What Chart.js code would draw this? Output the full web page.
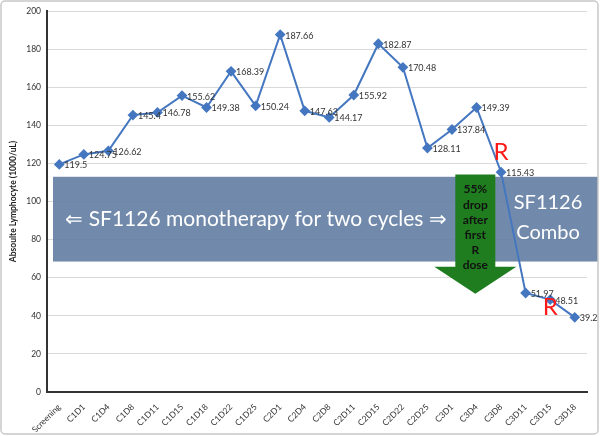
<!DOCTYPE html>
<html>
<head>
<meta charset="utf-8">
<script src="https://cdn.jsdelivr.net/npm/chart.js@4.4.1/dist/chart.umd.min.js"></script>
<style>
  html, body { margin: 0; padding: 0; background: #ffffff; }
  #wrap { width: 600px; height: 436px; position: relative; }
</style>
</head>
<body>
<div id="wrap"><canvas id="grafico"></canvas></div>
<script>
// dados do grafico
const visitas = ['Screening', 'C1D1', 'C1D4', 'C1D8', 'C1D11', 'C1D15', 'C1D18', 'C1D22', 'C1D25',
    'C2D1', 'C2D4', 'C2D8', 'C2D11', 'C2D15', 'C2D22', 'C2D25', 'C3D1', 'C3D4', 'C3D8',
    'C3D11', 'C3D15', 'C3D18'];
const linfocitos = [119.5, 124.75, 126.62, 145.4, 146.78, 155.62, 149.38, 168.39, 150.24,
    187.66, 147.63, 144.17, 155.92, 182.87, 170.48, 128.11, 137.84, 149.39, 115.43,
    51.97, 48.51, 39.2];
const rotulos = ['119.5', '124.75', '126.62', '145.4', '146.78', '155.62', '149.38', '168.39', '150.24',
    '187.66', '147.63', '144.17', '155.92', '182.87', '170.48', '128.11', '137.84', '149.39', '115.43',
    '51.97', '48.51', '39.2'];
const ticksY = [0, 20, 40, 60, 80, 100, 120, 140, 160, 180, 200];

const fonte = 'Lato, "Open Sans", sans-serif';
const corLinha = '#4477c0';

// anotacoes (em unidades do grafico)
const faixa = { topo: 113, base: 68.5 };
const seta = { centro: 16.95, topoHaste: 114.2, topoPonta: 65.8, ponta: 51.6 };
const letrasR = [{ idx: 18.0, valor: 126 }, { idx: 20.0, valor: 44.5 }];

function pxX(escala, idx) {
    const x0 = escala.getPixelForValue(0);
    const passo = escala.getPixelForValue(1) - x0;
    return x0 + idx * passo;
}

const pluginFundo = {
    id: 'fundo',
    beforeDatasetsDraw(chart) {
        const ctx = chart.ctx;
        const sx = chart.scales.x, sy = chart.scales.y;
        const area = chart.chartArea;

        // faixa azul da monoterapia
        const yT = sy.getPixelForValue(faixa.topo);
        const yB = sy.getPixelForValue(faixa.base);
        ctx.save();
        ctx.fillStyle = 'rgba(98, 125, 162, 0.9)';
        ctx.fillRect(area.left + 6, yT, chart.width - 2 - (area.left + 6), yB - yT);

        ctx.fillStyle = '#ffffff';
        ctx.textAlign = 'center';
        ctx.textBaseline = 'middle';
        ctx.font = '21px ' + fonte;
        ctx.fillText('\u21D0 SF1126 monotherapy for two cycles \u21D2', 256, (yT + yB) / 2);
        ctx.font = '20px ' + fonte;
        ctx.fillText('SF1126', 548, yT + 26);
        ctx.fillText('Combo', 548, yT + 56);

        // seta verde
        const cx = pxX(sx, seta.centro);
        const yH = sy.getPixelForValue(seta.topoHaste);
        const yP = sy.getPixelForValue(seta.topoPonta);
        const yTip = sy.getPixelForValue(seta.ponta);
        ctx.fillStyle = '#1f7d1f';
        ctx.beginPath();
        ctx.moveTo(cx - 20, yH);
        ctx.lineTo(cx + 20, yH);
        ctx.lineTo(cx + 20, yP);
        ctx.lineTo(cx + 41, yP);
        ctx.lineTo(cx, yTip);
        ctx.lineTo(cx - 41, yP);
        ctx.lineTo(cx - 20, yP);
        ctx.closePath();
        ctx.fill();

        ctx.fillStyle = '#111111';
        ctx.font = 'bold 12px ' + fonte;
        const linhas = ['55%', 'drop', 'after', 'first', 'R', 'dose'];
        linhas.forEach(function (t, i) {
            ctx.fillText(t, cx, yH + 15 + i * 15.2);
        });
        ctx.restore();
    },
    afterDatasetsDraw(chart) {
        const ctx = chart.ctx;
        const meta = chart.getDatasetMeta(0);
        ctx.save();
        ctx.font = '9px ' + fonte;
        ctx.fillStyle = '#333333';
        ctx.textAlign = 'left';
        ctx.textBaseline = 'middle';
        meta.data.forEach(function (p, i) {
            ctx.fillText(rotulos[i], p.x + 5, p.y + 1);
        });

        // letras R vermelhas
        const sx = chart.scales.x, sy = chart.scales.y;
        ctx.fillStyle = '#ff1a1a';
        ctx.font = '24px ' + fonte;
        ctx.textAlign = 'center';
        letrasR.forEach(function (r) {
            ctx.fillText('R', pxX(sx, r.idx), sy.getPixelForValue(r.valor));
        });
        ctx.restore();
    },
    afterDraw(chart) {
        const ctx = chart.ctx;
        ctx.save();
        ctx.strokeStyle = '#c8c8c8';
        ctx.lineWidth = 1.5;
        ctx.beginPath();
        ctx.roundRect(1, 1, chart.width - 3, chart.height - 3, 4);
        ctx.stroke();
        ctx.restore();
    }
};

const ctx1 = document.getElementById('grafico');

var graficoLinha = new Chart(ctx1, {
    type: 'line',
    data: {
        labels: visitas,
        datasets: [{
            data: linfocitos,
            borderColor: corLinha,
            backgroundColor: corLinha,
            borderWidth: 2,
            pointStyle: 'rectRot',
            pointRadius: 4,
            pointHoverRadius: 4,
            tension: 0
        }]
    },
    options: {
        responsive: true,
        maintainAspectRatio: false,
        animation: false,
        layout: { padding: { left: 8, right: 13, top: 10, bottom: 4 } },
        plugins: {
            legend: { display: false },
            tooltip: { enabled: false }
        },
        scales: {
            y: {
                min: 0,
                max: 200,
                afterBuildTicks(escala) {
                    escala.ticks = ticksY.map(v => ({ value: v }));
                },
                afterFit(escala) { escala.width = 39; },
                ticks: {
                    color: '#333333',
                    font: { size: 8.5, family: fonte },
                    padding: 6
                },
                title: {
                    display: true,
                    text: 'Absoulte Lymphocyte (1000/uL)',
                    color: '#222222',
                    font: { size: 8.5, weight: 'bold', family: fonte },
                    padding: 0
                },
                grid: {
                    color: '#d9d9d9',
                    drawTicks: false
                },
                border: { color: '#333333', width: 2 }
            },
            x: {
                offset: true,
                afterFit(escala) { escala.height = 40; },
                ticks: {
                    color: '#333333',
                    font: { size: 8.5, family: fonte },
                    minRotation: 45,
                    maxRotation: 45,
                    autoSkip: false,
                    padding: 2
                },
                grid: { display: false },
                border: { color: '#333333', width: 2 }
            }
        }
    },
    plugins: [pluginFundo]
});
</script>
</body>
</html>
